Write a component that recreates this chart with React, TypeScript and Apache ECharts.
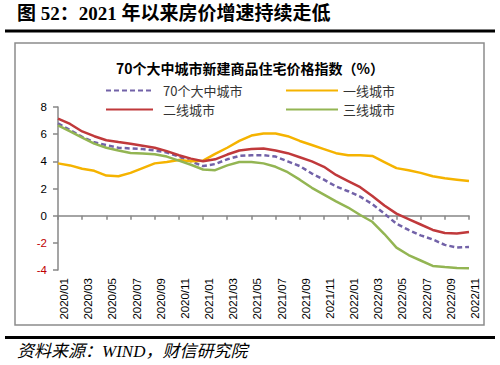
import React, { useEffect, useRef } from "react";
import * as echarts from "echarts";

const months: string[] = [
  "2020/01","2020/02","2020/03","2020/04","2020/05","2020/06","2020/07","2020/08","2020/09","2020/10","2020/11","2020/12",
  "2021/01","2021/02","2021/03","2021/04","2021/05","2021/06","2021/07","2021/08","2021/09","2021/10","2021/11","2021/12",
  "2022/01","2022/02","2022/03","2022/04","2022/05","2022/06","2022/07","2022/08","2022/09","2022/10","2022/11",
];

const seriesNames = ["70个大中城市", "一线城市", "二线城市", "三线城市"];

const cities70: number[] = [6.8, 6.3, 5.8, 5.4, 5.2, 5.0, 4.95, 4.9, 4.8, 4.65, 4.35, 4.0, 3.65, 3.8, 4.15, 4.4, 4.45, 4.45, 4.35, 4.0, 3.65, 3.1, 2.65, 2.15, 1.8, 1.4, 0.85, 0.15, -0.6, -1.05, -1.45, -1.75, -2.15, -2.35, -2.3];
const tier1: number[] = [3.85, 3.7, 3.45, 3.3, 2.95, 2.9, 3.15, 3.5, 3.85, 3.95, 4.1, 4.0, 4.05, 4.55, 5.0, 5.5, 5.9, 6.05, 6.05, 5.85, 5.5, 5.2, 4.9, 4.6, 4.45, 4.45, 4.4, 3.95, 3.5, 3.35, 3.15, 2.9, 2.75, 2.65, 2.55];
const tier2: number[] = [7.15, 6.75, 6.2, 5.85, 5.55, 5.42, 5.3, 5.15, 5.0, 4.75, 4.45, 4.2, 4.0, 4.15, 4.5, 4.8, 4.9, 4.95, 4.8, 4.6, 4.3, 4.0, 3.6, 3.0, 2.55, 2.1, 1.45, 0.75, 0.15, -0.25, -0.65, -1.05, -1.28, -1.32, -1.2];
const tier3: number[] = [6.65, 6.2, 5.75, 5.3, 5.0, 4.8, 4.62, 4.57, 4.52, 4.35, 4.05, 3.75, 3.4, 3.35, 3.7, 3.95, 3.95, 3.85, 3.6, 3.2, 2.65, 2.05, 1.55, 1.05, 0.6, 0.05, -0.45, -1.35, -2.35, -2.9, -3.3, -3.7, -3.78, -3.85, -3.87];

const yMin = -4;
const yMax = 8;
const yStep = 2;

const headerText = "图 52：2021 年以来房价增速持续走低";
const chartTitle = "70个大中城市新建商品住宅价格指数（%）";
const sourceText = "资料来源：WIND，财信研究院";

const colors = ["#7262a8", "#f5b300", "#c0393b", "#93b553"];

export default function App() {
  const ref = useRef<HTMLDivElement>(null);
  useEffect(() => {
    document.body.style.margin = "0";
    if (!ref.current) return;
    const chart = echarts.init(ref.current, undefined, { renderer: "svg" });
    const cjk = "'Noto Sans CJK SC', sans-serif";
    const axisGrey = "#878787";
    const lineSeries = (name: string, data: number[], color: string, dashed = false) => ({
      name,
      type: "line",
      data,
      xAxisIndex: 0,
      yAxisIndex: 0,
      symbol: "none",
      smooth: false,
      lineStyle: { color, width: 2.5, type: dashed ? [5, 3] : "solid" },
      itemStyle: { color },
    });
    const legendBase = {
      orient: "vertical",
      top: 79,
      itemHeight: 12,
      itemGap: 6,
      itemStyle: { opacity: 0 },
      textStyle: { fontFamily: cjk, fontSize: 13, color: "#333" },
    };
    chart.setOption({
      animation: false,
      backgroundColor: "#fff",
      title: {
        text: chartTitle,
        left: "center",
        top: 56,
        textStyle: { fontFamily: cjk, fontSize: 14, fontWeight: "bold", color: "#000" },
      },
      legend: [
        {
          ...legendBase,
          data: [seriesNames[0], seriesNames[2]],
          left: 100,
          itemWidth: 47,
          textStyle: { ...legendBase.textStyle, padding: [0, 0, 0, 5] },
        },
        {
          ...legendBase,
          data: [seriesNames[1], seriesNames[3]],
          left: 280,
          itemWidth: 52,
        },
      ],
      grid: { left: 58, right: 31, top: 107, bottom: 95, containLabel: false },
      xAxis: [
        {
          type: "category",
          data: months,
          position: "bottom",
          boundaryGap: false,
          axisLine: { show: false, onZero: false },
          axisTick: { show: false },
          axisLabel: {
            interval: 1,
            rotate: 90,
            margin: 8,
            verticalAlign: "top",
            fontSize: 11.5,
            color: "#000",
            fontFamily: "'Liberation Sans', Arial, sans-serif",
          },
          splitLine: { show: false },
        },
        {
          type: "category",
          data: months,
          position: "bottom",
          boundaryGap: false,
          axisLine: { show: true, onZero: true, lineStyle: { color: axisGrey, width: 1.5 } },
          axisTick: { show: true, interval: 1, length: 4, lineStyle: { color: axisGrey, width: 1.5 } },
          axisLabel: { show: false },
          splitLine: { show: false },
        },
      ],
      yAxis: {
        type: "value",
        min: yMin,
        max: yMax,
        interval: yStep,
        axisLine: { show: true, lineStyle: { color: axisGrey, width: 1.5 } },
        axisTick: { show: true, length: 5, lineStyle: { color: axisGrey, width: 1.5 } },
        splitLine: { show: false },
        axisLabel: {
          margin: 11,
          fontSize: 11.5,
          fontFamily: "'Liberation Sans', Arial, sans-serif",
          color: (v: any) => (Number(v) < 0 ? "#c00000" : "#000"),
        },
      },
      series: [
        lineSeries(seriesNames[0], cities70, colors[0], true),
        lineSeries(seriesNames[1], tier1, colors[1]),
        lineSeries(seriesNames[2], tier2, colors[2]),
        lineSeries(seriesNames[3], tier3, colors[3]),
      ],
      graphic: [
        {
          type: "text",
          left: 17,
          top: 4,
          style: {
            text: headerText,
            font: "bold 19px 'Liberation Serif', 'Noto Sans CJK SC', serif",
            fill: "#000",
          },
        },
        { type: "rect", shape: { x: 5, y: 29.5, width: 490, height: 3 }, style: { fill: "#000" } },
        {
          type: "rect",
          shape: { x: 15, y: 43, width: 469, height: 282 },
          style: { fill: "none", stroke: "#8c8c8c", lineWidth: 1.5 },
          silent: true,
        },
        { type: "rect", shape: { x: 5, y: 336, width: 490, height: 3 }, style: { fill: "#000" } },
        {
          type: "text",
          left: 17,
          top: 343,
          style: {
            text: sourceText,
            font: "italic 17px 'Liberation Serif', 'Noto Sans CJK SC', serif",
            fill: "#000",
          },
        },
      ],
    });
    return () => chart.dispose();
  }, []);
  return (
    <div
      ref={ref}
      style={{ position: "absolute", left: 0, top: 0, width: 500, height: 365, background: "#fff" }}
    />
  );
}
